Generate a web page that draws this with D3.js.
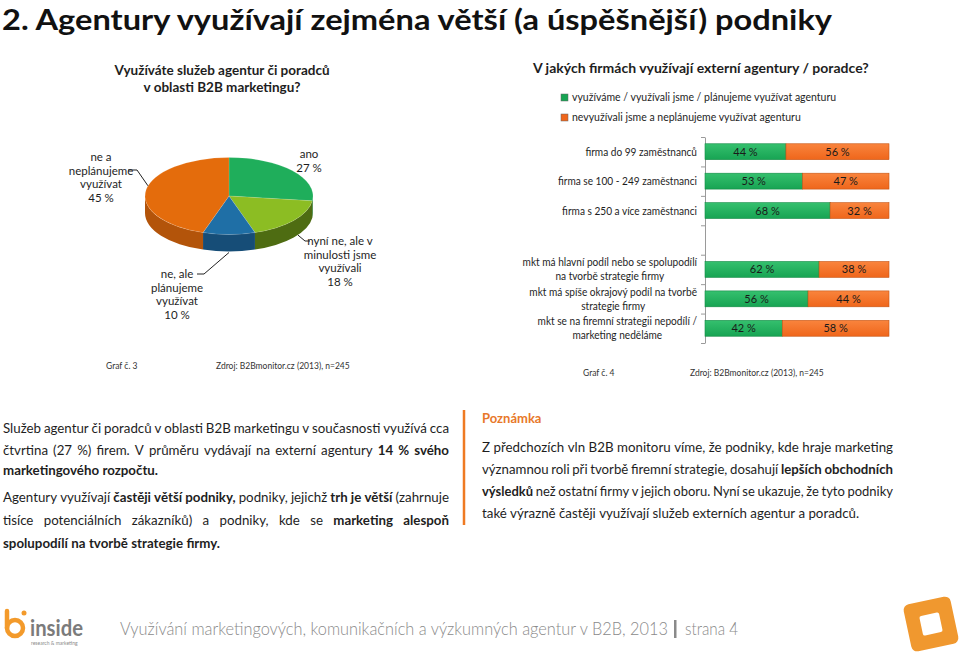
<!DOCTYPE html>
<html>
<head>
<meta charset="utf-8">
<script src="https://d3js.org/d3.v7.min.js"></script>
<style>
body { margin: 0; background: #fff; }
svg text { font-family: Lato, "Open Sans", sans-serif; fill: #1e1e1e; }
</style>
</head>
<body>
<svg id="page" width="960" height="655"></svg>
<script>
// ---- data ---------------------------------------------------------------
const pieCategories = ["ano", "nyní ne, ale v minulosti jsme využívali", "ne, ale plánujeme využívat", "ne a neplánujeme využívat"];
const pieValues = [27, 18, 10, 45];
const pieLabelLines = [["ano"], ["nyní ne, ale v", "minulosti jsme", "využívali"], ["ne, ale", "plánujeme", "využívat"], ["ne a", "neplánujeme", "využívat"]];

const barSeries = ["využíváme / využívali jsme / plánujeme využívat agenturu", "nevyužívali jsme a neplánujeme využívat agenturu"];
const barCategories = [
  ["firma do 99 zaměstnanců"],
  ["firma se 100 - 249 zaměstnanci"],
  ["firma s 250 a více zaměstnanci"],
  [],
  ["mkt má hlavní podíl nebo se spolupodílí", "na tvorbě strategie firmy"],
  ["mkt má spíše okrajový podíl na tvorbě", "strategie firmy"],
  ["mkt se na firemní strategii nepodílí /", "marketing neděláme"]
];
const useValues = [44, 53, 68, null, 62, 56, 42];
const notUseValues = [56, 47, 32, null, 38, 44, 58];

const textLeft = [
  [{t: "Služeb agentur či poradců v oblasti B2B marketingu v současnosti využívá cca"}],
  [{t: "čtvrtina (27 %) firem. V průměru vydávají na externí agentury"}, {t: "14 % svého", b: true}],
  [{t: "marketingového rozpočtu.", b: true}],
  [{t: "Agentury využívají"}, {t: "častěji větší podniky,", b: true}, {t: "podniky, jejichž"}, {t: "trh je větší", b: true}, {t: "(zahrnuje"}],
  [{t: "tisíce potenciálních zákazníků) a podniky, kde se"}, {t: "marketing alespoň", b: true}],
  [{t: "spolupodílí na tvorbě strategie firmy.", b: true}]
];
const textRight = [
  [{t: "Z předchozích vln B2B monitoru víme, že podniky, kde hraje marketing"}],
  [{t: "významnou roli při tvorbě firemní strategie, dosahují"}, {t: "lepších obchodních", b: true}],
  [{t: "výsledků", b: true}, {t: "než ostatní firmy v jejich oboru. Nyní se ukazuje, že tyto podniky"}],
  [{t: "také výrazně častěji využívají služeb externích agentur a poradců."}]
];

const svg = d3.select("#page");

// ---- headline -----------------------------------------------------------
svg.append("text")
  .attr("x", 2).attr("y", 29.5)
  .attr("textLength", 830).attr("lengthAdjust", "spacingAndGlyphs")
  .style("font-size", "29px").style("font-weight", "bold").style("fill", "#111")
  .text("2. Agentury využívají zejména větší (a úspěšnější) podniky");

// ---- pie (3D look) ------------------------------------------------------
const pieColors = ["#1fae5b", "#8cbd23", "#1f6fa6", "#e46c0c"];
const sideColors = ["#17803f", "#4e6c12", "#164d77", "#b3540a"];
const cx = 229, cy = 196, rx = 84, ry = 38.5, depth = 17;

const pieG = svg.append("g");
pieG.selectAll("text.ptitle")
  .data(["Využíváte služeb agentur či poradců", "v oblasti B2B marketingu?"])
  .join("text").attr("class", "ptitle")
  .attr("x", 222).attr("y", (d, i) => 75 + i * 17)
  .attr("text-anchor", "middle")
  .style("font-size", "13.5px").style("font-weight", "bold")
  .text(d => d);

const arcs = d3.pie().sort(null).value(d => d)(pieValues);
const pt = (a, dy = 0) => [cx + rx * Math.sin(a), cy - ry * Math.cos(a) + dy];

arcs.forEach((d, i) => {
  const a0 = Math.max(d.startAngle, Math.PI / 2), a1 = Math.min(d.endAngle, 3 * Math.PI / 2);
  if (a0 >= a1) return;
  const p0 = pt(a0), p1 = pt(a1), q1 = pt(a1, depth), q0 = pt(a0, depth);
  pieG.append("path")
    .attr("d", `M${p0}A${rx},${ry} 0 0 1 ${p1}L${q1}A${rx},${ry} 0 0 0 ${q0}Z`)
    .attr("fill", sideColors[i]);
});
arcs.forEach((d, i) => {
  const p0 = pt(d.startAngle), p1 = pt(d.endAngle);
  const large = d.endAngle - d.startAngle > Math.PI ? 1 : 0;
  pieG.append("path")
    .attr("d", `M${cx},${cy}L${p0}A${rx},${ry} 0 ${large} 1 ${p1}Z`)
    .attr("fill", pieColors[i]).attr("stroke", "rgba(255,255,255,0.25)").attr("stroke-width", 0.5);
});

// labels: centre x, first line y
const pieLabelPos = [[309, 158], [340, 245], [177, 278], [101, 161]];
arcs.forEach((d, i) => {
  const lines = pieLabelLines[i].concat([pieValues[i] + " %"]);
  pieG.append("g").selectAll("text").data(lines).join("text")
    .attr("x", pieLabelPos[i][0]).attr("y", (l, j) => pieLabelPos[i][1] + j * 13.6)
    .attr("text-anchor", "middle").style("font-size", "11.5px")
    .text(l => l);
});
// leader lines: label end -> elbow -> point on the pie
const leaders = [
  {i: 1, a: 2.18, dy: depth, pts: [[310, 241], [305, 241]]},
  {i: 2, a: Math.PI, dy: depth + 1, pts: [[197, 274], [204, 274]]},
  {i: 3, a: 4.98, dy: 0, pts: [[128, 170], [137, 170]]}
];
leaders.forEach(l => {
  pieG.append("path")
    .attr("d", d3.line()(l.pts.concat([pt(l.a, l.dy)])))
    .attr("fill", "none").attr("stroke", "#222").attr("stroke-width", 1);
});

const smallNote = (x, y, t) => svg.append("text").attr("x", x).attr("y", y)
  .style("font-size", "8.5px").style("fill", "#333").text(t);
smallNote(106, 369, "Graf č. 3");
smallNote(216, 369, "Zdroj: B2Bmonitor.cz (2013), n=245");
smallNote(583, 376, "Graf č. 4");
smallNote(690, 376, "Zdroj: B2Bmonitor.cz (2013), n=245");

// ---- bar chart ----------------------------------------------------------
const barColors = [["#35c06e", "#17a453"], ["#f9843d", "#ef661b"]];
const defs = svg.append("defs");
barColors.forEach((c, i) => {
  const g = defs.append("linearGradient").attr("id", "bg" + i).attr("x1", 0).attr("x2", 0).attr("y1", 0).attr("y2", 1);
  g.append("stop").attr("offset", "0%").attr("stop-color", c[0]);
  g.append("stop").attr("offset", "100%").attr("stop-color", c[1]);
});

const barG = svg.append("g");
barG.append("text").attr("x", 533).attr("y", 73)
  .style("font-size", "14px").style("font-weight", "bold")
  .text("V jakých firmách využívají externí agentury / poradce?");

const legend = barG.selectAll("g.leg").data(barSeries).join("g").attr("class", "leg")
  .attr("transform", (d, i) => `translate(561,${94 + i * 20})`);
legend.append("rect").attr("width", 7).attr("height", 7)
  .attr("fill", (d, i) => barColors[i][1]).attr("stroke", "#666").attr("stroke-width", 0.5);
legend.append("text").attr("x", 11).attr("y", 7).style("font-size", "10.5px").text(d => d);

const x = d3.scaleLinear().domain([0, 100]).range([705, 889]);
const y = d3.scaleBand().domain(d3.range(barCategories.length)).range([137, 343]).paddingInner(0.46).paddingOuter(0.23);
const yTicks = d3.scaleLinear().domain([0, barCategories.length]).range([137, 343]);

barG.append("g").attr("transform", "translate(705,0)")
  .call(d3.axisLeft(yTicks).tickValues(d3.range(barCategories.length + 1)).tickFormat("").tickSize(4).tickSizeOuter(0))
  .call(g => g.selectAll("path, line").attr("stroke", "#9a9a9a"));

const rows = barCategories.map((c, i) => ({i, use: useValues[i], not: notUseValues[i]})).filter(d => d.use != null);
const stacked = d3.stack().keys(["use", "not"])(rows);
stacked.forEach((s, k) => {
  const segs = barG.append("g").selectAll("g").data(s).join("g");
  segs.append("rect")
    .attr("x", d => x(d[0])).attr("width", d => x(d[1]) - x(d[0]))
    .attr("y", d => y(d.data.i)).attr("height", y.bandwidth())
    .attr("fill", `url(#bg${k})`).attr("stroke", k ? "#c55414" : "#138a45").attr("stroke-width", 0.6);
  segs.append("text")
    .attr("x", d => x((d[0] + d[1]) / 2)).attr("y", d => y(d.data.i) + y.bandwidth() / 2 + 4)
    .attr("text-anchor", "middle").style("font-size", "11px").style("fill", "#1a1a1a")
    .text(d => (d[1] - d[0]) + " %");
});

// category labels, right-aligned block with centred lines (slightly condensed)
barCategories.forEach((lines, i) => {
  if (!lines.length) return;
  const cyc = y(i) + y.bandwidth() / 2;
  const g = barG.append("g").attr("transform", "translate(697,0) scale(0.92,1)");
  const t = g.selectAll("text").data(lines).join("text")
    .attr("y", (l, j) => cyc + 4 + (j - (lines.length - 1) / 2) * 14)
    .style("font-size", "11px").text(l => l);
  let w = 0;
  t.each(function () { w = Math.max(w, this.getComputedTextLength()); });
  t.attr("x", -w / 2).attr("text-anchor", "middle");
});

// ---- body text ----------------------------------------------------------
function paragraph(lines, x0, x1, ys, justify, size) {
  lines.forEach((segs, li) => {
    const g = svg.append("g");
    const words = [];
    segs.forEach(s => s.t.split(/\s+/).filter(w => w).forEach(w => words.push({w, b: s.b})));
    const nodes = words.map(wd => g.append("text").attr("y", ys[li]).style("font-size", size + "px")
      .style("font-weight", wd.b ? "bold" : "normal").text(wd.w));
    const widths = nodes.map(n => n.node().getComputedTextLength());
    const total = d3.sum(widths);
    const space = size * 0.25;
    let sx = 1;
    let gap = space;
    const target = x1 - x0;
    if (justify[li]) {
      gap = (target - total) / (words.length - 1);
      if (gap < space * 0.8) { sx = target / (total + space * 0.8 * (words.length - 1)); gap = space * 0.8; }
    } else if (total + space * (words.length - 1) > target) {
      sx = target / (total + space * (words.length - 1));
    }
    let cur = 0;
    nodes.forEach((n, k) => { n.attr("x", cur); cur += widths[k] + gap; });
    g.attr("transform", `translate(${x0},0) scale(${sx},1)`);
  });
}
paragraph(textLeft, 3, 449, [433, 455, 475, 502, 525, 548], [true, true, false, true, true, false], 13.3);
paragraph(textRight, 482, 893, [452, 474, 496, 518], [true, true, true, false], 13.3);

svg.append("text").attr("x", 482).attr("y", 423)
  .style("font-size", "13px").style("font-weight", "bold").style("fill", "#e8782a").text("Poznámka");
svg.append("line").attr("x1", 464).attr("x2", 464).attr("y1", 410).attr("y2", 525)
  .attr("stroke", "#ef7a22").attr("stroke-width", 2.5);

// ---- footer -------------------------------------------------------------
svg.append("text").attr("x", 120).attr("y", 635)
  .attr("textLength", 548).attr("lengthAdjust", "spacingAndGlyphs")
  .style("font-size", "17px").style("fill", "#8a8a8a").style("font-weight", 300)
  .text("Využívání marketingových, komunikačních a výzkumných agentur v B2B, 2013");
svg.append("rect").attr("x", 674).attr("y", 620).attr("width", 2.5).attr("height", 18).attr("fill", "#8a8a8a");
svg.append("text").attr("x", 685).attr("y", 635)
  .attr("textLength", 53).attr("lengthAdjust", "spacingAndGlyphs")
  .style("font-size", "17px").style("fill", "#8a8a8a").style("font-weight", 300)
  .text("strana 4");

// left logo
const logo = svg.append("g");
logo.append("circle").attr("cx", 15).attr("cy", 628).attr("r", 8)
  .attr("fill", "none").attr("stroke", "#f39a2b").attr("stroke-width", 4.5);
logo.append("line").attr("x1", 7).attr("x2", 7).attr("y1", 611).attr("y2", 628)
  .attr("stroke", "#f39a2b").attr("stroke-width", 4.5).attr("stroke-linecap", "round");
logo.append("circle").attr("cx", 24).attr("cy", 613).attr("r", 2.5).attr("fill", "#f39a2b");
logo.append("text").attr("x", 30).attr("y", 636).style("font-size", "22px").style("font-weight", "bold")
  .style("fill", "#7b7b7b").attr("textLength", 53).attr("lengthAdjust", "spacingAndGlyphs").text("inside");
logo.append("text").attr("x", 31).attr("y", 645).style("font-size", "5px").style("fill", "#8a8a8a").text("research & marketing");

// right logo
const sq = svg.append("g").attr("transform", "translate(931,624) rotate(-12)");
sq.append("rect").attr("x", -24).attr("y", -24).attr("width", 48).attr("height", 48).attr("rx", 6).attr("fill", "#f0982f");
sq.append("rect").attr("x", -10).attr("y", -10).attr("width", 20).attr("height", 20).attr("rx", 2).attr("fill", "#fff");
</script>
</body>
</html>
